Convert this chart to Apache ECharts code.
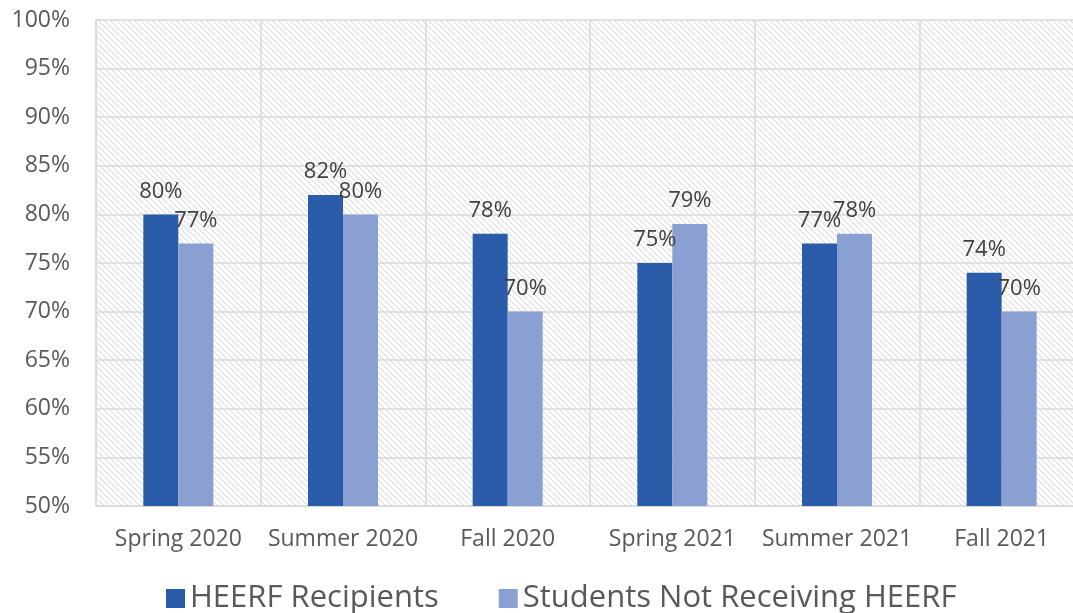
<!DOCTYPE html>
<html><head><meta charset="utf-8">
<script src="https://cdn.jsdelivr.net/npm/echarts@6/dist/echarts.min.js"></script>
<style>html,body{margin:0;padding:0;background:#fff}#c{width:1073px;height:613px}</style>
</head><body><div id="c"></div>
<script>
const categories = ['Spring 2020','Summer 2020','Fall 2020','Spring 2021','Summer 2021','Fall 2021'];
const recipients = [80, 82, 78, 75, 77, 74];
const nonRecipients = [77, 80, 70, 79, 78, 70];
const seriesNames = ['HEERF Recipients','Students Not Receiving HEERF'];

const pc = document.createElement('canvas');
pc.width = 6; pc.height = 6;
const g = pc.getContext('2d');
g.fillStyle = '#ffffff'; g.fillRect(0,0,6,6);
g.strokeStyle = '#dedede'; g.lineWidth = 1.2;
for (let k = -6; k <= 12; k += 6) {
  g.beginPath(); g.moveTo(k, 0); g.lineTo(k + 6, 6); g.stroke();
}

const FONT = 'Open Sans';
const chart = echarts.init(document.getElementById('c'), null, {renderer:'canvas'});
const lbl = {show:true, position:'top', distance:12, formatter:'{c}%', color:'#404040', fontSize:22, fontFamily:FONT};
chart.setOption({
  animation:false,
  textStyle:{fontFamily:FONT},
  grid:{left:96, top:20, width:988, height:486, show:true, outerBoundsMode:'none', containLabel:false,
    backgroundColor:{image:pc, repeat:'repeat'}, borderWidth:0},
  xAxis:{type:'category', data:categories,
    axisLine:{show:true, lineStyle:{color:'#d9d9d9', width:1.5}},
    axisTick:{show:false},
    splitLine:{show:true, interval:0, lineStyle:{color:'#d9d9d9', width:1.5}},
    axisLabel:{interval:0, color:'#595959', fontSize:23, margin:22, fontFamily:FONT}},
  yAxis:{type:'value', min:50, max:100, interval:5,
    axisLine:{show:true, lineStyle:{color:'#d9d9d9', width:1.5}},
    axisTick:{show:false},
    splitLine:{show:true, lineStyle:{color:'#d9d9d9', width:1.5}},
    axisLabel:{formatter:'{value}%', color:'#595959', fontSize:23, margin:26, fontFamily:FONT}},
  legend:{top:578, left:161, itemWidth:19, itemHeight:19, itemGap:60, icon:'rect',
    textStyle:{color:'#595959', fontSize:31, fontFamily:FONT}},
  series:[
    {name:seriesNames[0], type:'bar', data:recipients, barWidth:35, barGap:'0%', itemStyle:{color:'#2a5caa'}, label:lbl},
    {name:seriesNames[1], type:'bar', data:nonRecipients, barWidth:35, barGap:'0%', itemStyle:{color:'#8aa0d2'}, label:lbl}
  ]
});
</script></body></html>
